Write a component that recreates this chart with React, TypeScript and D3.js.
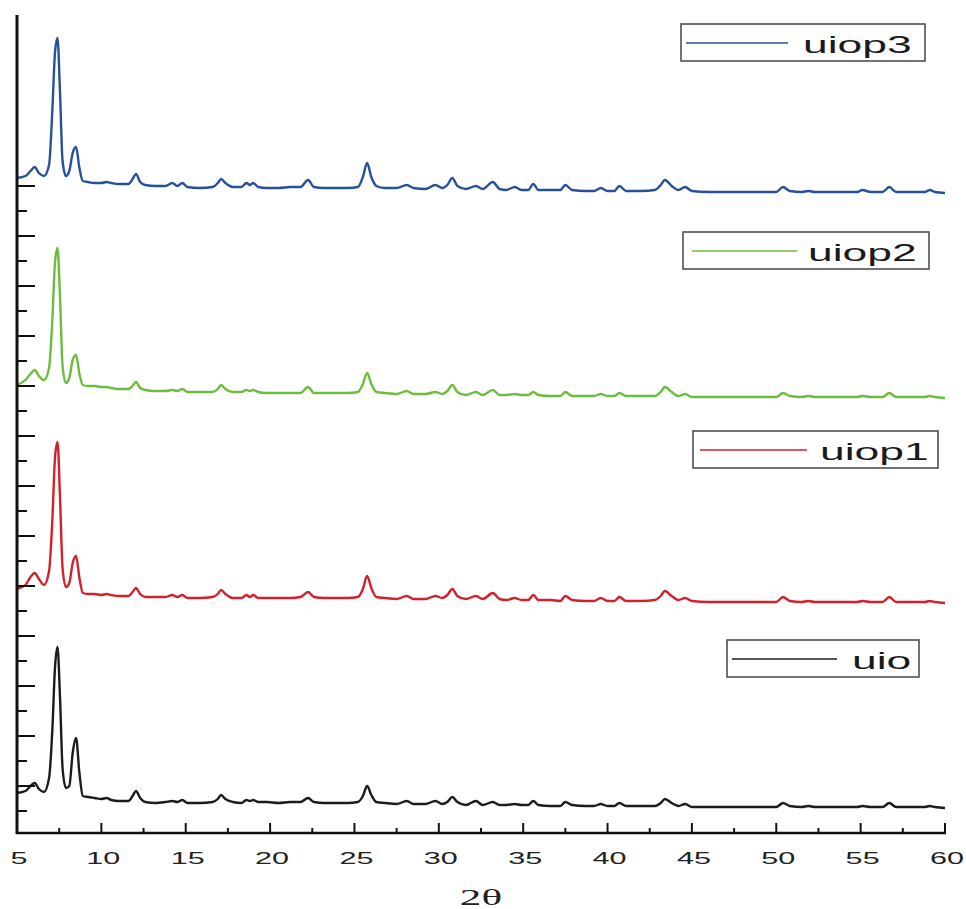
import React from 'react';
import * as d3 from 'd3';

// 2θ sample points (deg), shared by every pattern
const twoTheta = [
  5.0, 5.5, 5.8, 6.05, 6.3, 6.6, 6.9, 7.1, 7.25, 7.4, 7.55, 7.7, 7.9, 8.1, 8.3, 8.5, 8.7, 8.9, 9.2, 9.6,
  10.0, 10.3, 10.6, 11.0, 11.6, 11.85, 12.05, 12.3, 12.6, 13.2,
  13.8, 14.2, 14.5, 14.8, 15.1, 15.8, 16.6, 16.9, 17.1, 17.35,
  17.8, 18.3, 18.6, 18.8, 19.0, 19.3, 19.8, 20.5, 21.2, 21.8,
  22.25, 22.6, 23.2, 24.0, 24.6, 25.2, 25.5, 25.75, 26.0, 26.3,
  26.8, 27.5, 28.1, 28.5, 29.2, 29.8, 30.2, 30.5, 30.8, 31.1,
  31.6, 32.2, 32.6, 33.2, 33.6, 34.0, 34.5, 34.9, 35.3, 35.6,
  35.9, 36.6, 37.2, 37.5, 37.9, 38.7, 39.2, 39.6, 40.0, 40.4,
  40.7, 41.1, 42.0, 42.8, 43.15, 43.4, 43.8, 44.2, 44.6, 45.0,
  46.0, 47.0, 48.0, 49.0, 50.0, 50.4, 50.8, 51.5, 51.9, 52.3,
  53.5, 54.5, 54.8, 55.1, 55.6, 56.3, 56.7, 57.1, 58.0, 58.8,
  59.1, 59.4, 60.0,
];

// intensities (a.u.) of each pattern, before stacking
const uio = [
  15, 17, 22, 25, 19, 16, 30, 80, 140, 161, 110, 40, 20, 22, 55, 70, 35, 12, 11, 10,
  9, 10, 8, 7, 7, 12, 17, 10, 6, 5,
  6, 7, 6, 8, 5, 5, 6, 9, 13, 9,
  6, 5, 8, 7, 8, 6, 6, 5, 6, 6,
  10, 6, 5, 5, 5, 6, 12, 22, 13, 6,
  5, 4, 7, 4, 4, 7, 4, 6, 11, 6,
  3, 7, 3, 6, 3, 3, 4, 3, 3, 7,
  3, 2, 2, 6, 3, 2, 2, 4, 2, 2,
  5, 2, 2, 2, 5, 9, 5, 2, 4, 1,
  1, 1, 1, 1, 1, 5, 2, 1, 2, 1,
  1, 1, 1, 2, 1, 1, 5, 1, 1, 1,
  2, 1, 0,
];
const uiop1 = [
  14, 18, 26, 30, 24, 18, 32, 85, 145, 161, 105, 35, 16, 20, 40, 47, 25, 10, 9, 9,
  8, 9, 8, 7, 7, 11, 15, 9, 6, 6,
  6, 8, 6, 8, 5, 5, 6, 9, 13, 9,
  5, 5, 8, 6, 8, 5, 5, 5, 5, 6,
  11, 6, 5, 5, 5, 6, 14, 27, 15, 6,
  5, 4, 7, 4, 4, 7, 5, 8, 14, 7,
  4, 7, 4, 10, 4, 3, 5, 3, 3, 8,
  3, 3, 2, 7, 3, 2, 2, 5, 2, 2,
  6, 2, 2, 3, 7, 12, 7, 3, 5, 2,
  1, 1, 1, 1, 1, 6, 2, 1, 2, 1,
  1, 1, 1, 2, 1, 1, 6, 1, 1, 1,
  2, 1, 0,
];
const uiop2 = [
  13, 18, 24, 28, 22, 18, 30, 80, 135, 150, 100, 32, 15, 20, 38, 43, 24, 13, 12, 12,
  11, 11, 10, 9, 9, 12, 16, 10, 8, 7,
  7, 8, 7, 9, 6, 6, 6, 9, 13, 9,
  6, 6, 8, 7, 8, 6, 5, 5, 5, 5,
  11, 5, 5, 5, 5, 6, 14, 25, 14, 6,
  5, 4, 7, 4, 4, 6, 4, 7, 13, 6,
  3, 6, 3, 8, 3, 3, 4, 3, 3, 6,
  3, 2, 2, 6, 2, 2, 2, 4, 2, 2,
  5, 2, 2, 2, 6, 11, 6, 2, 4, 1,
  1, 1, 1, 1, 1, 5, 2, 1, 2, 1,
  1, 1, 1, 2, 1, 1, 5, 1, 1, 1,
  2, 1, 0,
];
const uiop3 = [
  15, 17, 22, 26, 20, 17, 28, 85, 140, 155, 100, 32, 17, 22, 40, 46, 25, 12, 11, 10,
  10, 11, 10, 9, 9, 14, 19, 11, 8, 7,
  7, 10, 7, 10, 6, 5, 6, 10, 14, 10,
  6, 6, 10, 8, 10, 6, 5, 5, 6, 6,
  13, 6, 5, 5, 5, 6, 16, 30, 16, 7,
  5, 5, 8, 5, 4, 8, 5, 8, 15, 7,
  4, 7, 4, 11, 4, 3, 6, 3, 3, 9,
  3, 3, 3, 8, 3, 2, 2, 5, 2, 2,
  7, 2, 2, 3, 8, 13, 7, 3, 6, 2,
  1, 1, 1, 1, 1, 6, 2, 1, 2, 1,
  1, 1, 1, 3, 1, 1, 6, 1, 1, 1,
  3, 1, 0,
];

const seriesNames = ['uio', 'uiop1', 'uiop2', 'uiop3'];
const seriesValues = [uio, uiop1, uiop2, uiop3];
const seriesOffsets = [28, 233, 438, 643];
const seriesColors = ['#1c1c1c', '#d3212b', '#6cbd3e', '#25519b'];

const xTicks = [5, 10, 15, 20, 25, 30, 35, 40, 45, 50, 55, 60];
const xMinorTicks = [7.5, 12.5, 17.5, 22.5, 27.5, 32.5, 37.5, 42.5, 47.5, 52.5, 57.5];
const yTicks = d3.range(25, 651, 25);

// legend boxes, top to bottom in the picture
const legendBoxes = [
  { name: 'uiop3', x: 681, y: 24, w: 244, lineX1: 686, lineX2: 788, textX: 803 },
  { name: 'uiop2', x: 683, y: 232, w: 246, lineX1: 692, lineX2: 797, textX: 808 },
  { name: 'uiop1', x: 693, y: 431, w: 245, lineX1: 700, lineX2: 807, textX: 820 },
  { name: 'uio', x: 727, y: 640, w: 192, lineX1: 732, lineX2: 837, textX: 852 },
];

const W = 966;
const H = 909;

export default function App() {
  const x = d3.scaleLinear().domain([5, 60]).range([17, 945]);
  const y = d3.scaleLinear().domain([0, 821]).range([836, 15]);
  const axisY = 833;

  const line = d3
    .line<number>()
    .x((_, i) => x(twoTheta[i]))
    .y((d) => y(d))
    .curve(d3.curveMonotoneX);

  return (
    <svg width={W} height={H} style={{ position: 'absolute', left: 0, top: 0, background: '#fff' }}>
      {/* patterns */}
      {seriesValues.map((vals, s) => (
        <path
          key={seriesNames[s]}
          d={line(vals.map((v) => v + seriesOffsets[s])) || ''}
          fill="none"
          stroke={seriesColors[s]}
          strokeWidth={2.4}
          strokeLinejoin="round"
        />
      ))}

      {/* left axis */}
      <line x1={17} x2={17} y1={15} y2={axisY + 1} stroke="#111" strokeWidth={3} />
      {yTicks.map((t) => (
        <line
          key={'y' + t}
          x1={17}
          x2={t % 50 === 0 ? 35 : 27}
          y1={y(t)}
          y2={y(t)}
          stroke="#111"
          strokeWidth={2}
        />
      ))}

      {/* bottom axis */}
      <line x1={16} x2={946} y1={axisY} y2={axisY} stroke="#111" strokeWidth={2.5} />
      {xTicks.map((t) => (
        <line key={'x' + t} x1={x(t)} x2={x(t)} y1={axisY} y2={axisY - 10} stroke="#111" strokeWidth={2} />
      ))}
      {xMinorTicks.map((t) => (
        <line key={'xm' + t} x1={x(t)} x2={x(t)} y1={axisY} y2={axisY - 5} stroke="#111" strokeWidth={2} />
      ))}
      {xTicks.map((t) => (
        <text
          key={'xl' + t}
          transform={`translate(${x(t) + 2},${864}) scale(1.8,1)`}
          textAnchor="middle"
          fontFamily="'Liberation Sans', Arial, sans-serif"
          fontSize={17}
          fill="#222"
        >
          {t}
        </text>
      ))}
      <text
        transform={`translate(481,905) scale(1.8,1)`}
        textAnchor="middle"
        fontFamily="'Liberation Serif', 'DejaVu Serif', serif"
        fontSize={24}
        fill="#222"
      >
        2θ
      </text>

      {/* legends */}
      {legendBoxes.map((b) => {
        const s = seriesNames.indexOf(b.name);
        const h = 37;
        return (
          <g key={'lg' + b.name}>
            <rect x={b.x} y={b.y} width={b.w} height={h} fill="#fff" stroke="#444" strokeWidth={1.5} />
            <line x1={b.lineX1} x2={b.lineX2} y1={b.y + 19} y2={b.y + 19} stroke={seriesColors[s]} strokeWidth={1.5} />
            <text
              transform={`translate(${b.textX},${b.y + 29}) scale(1.85,1)`}
              fontFamily="'Liberation Sans', Arial, sans-serif"
              fontSize={24}
              fill="#1a1a1a"
            >
              {b.name}
            </text>
          </g>
        );
      })}
    </svg>
  );
}
